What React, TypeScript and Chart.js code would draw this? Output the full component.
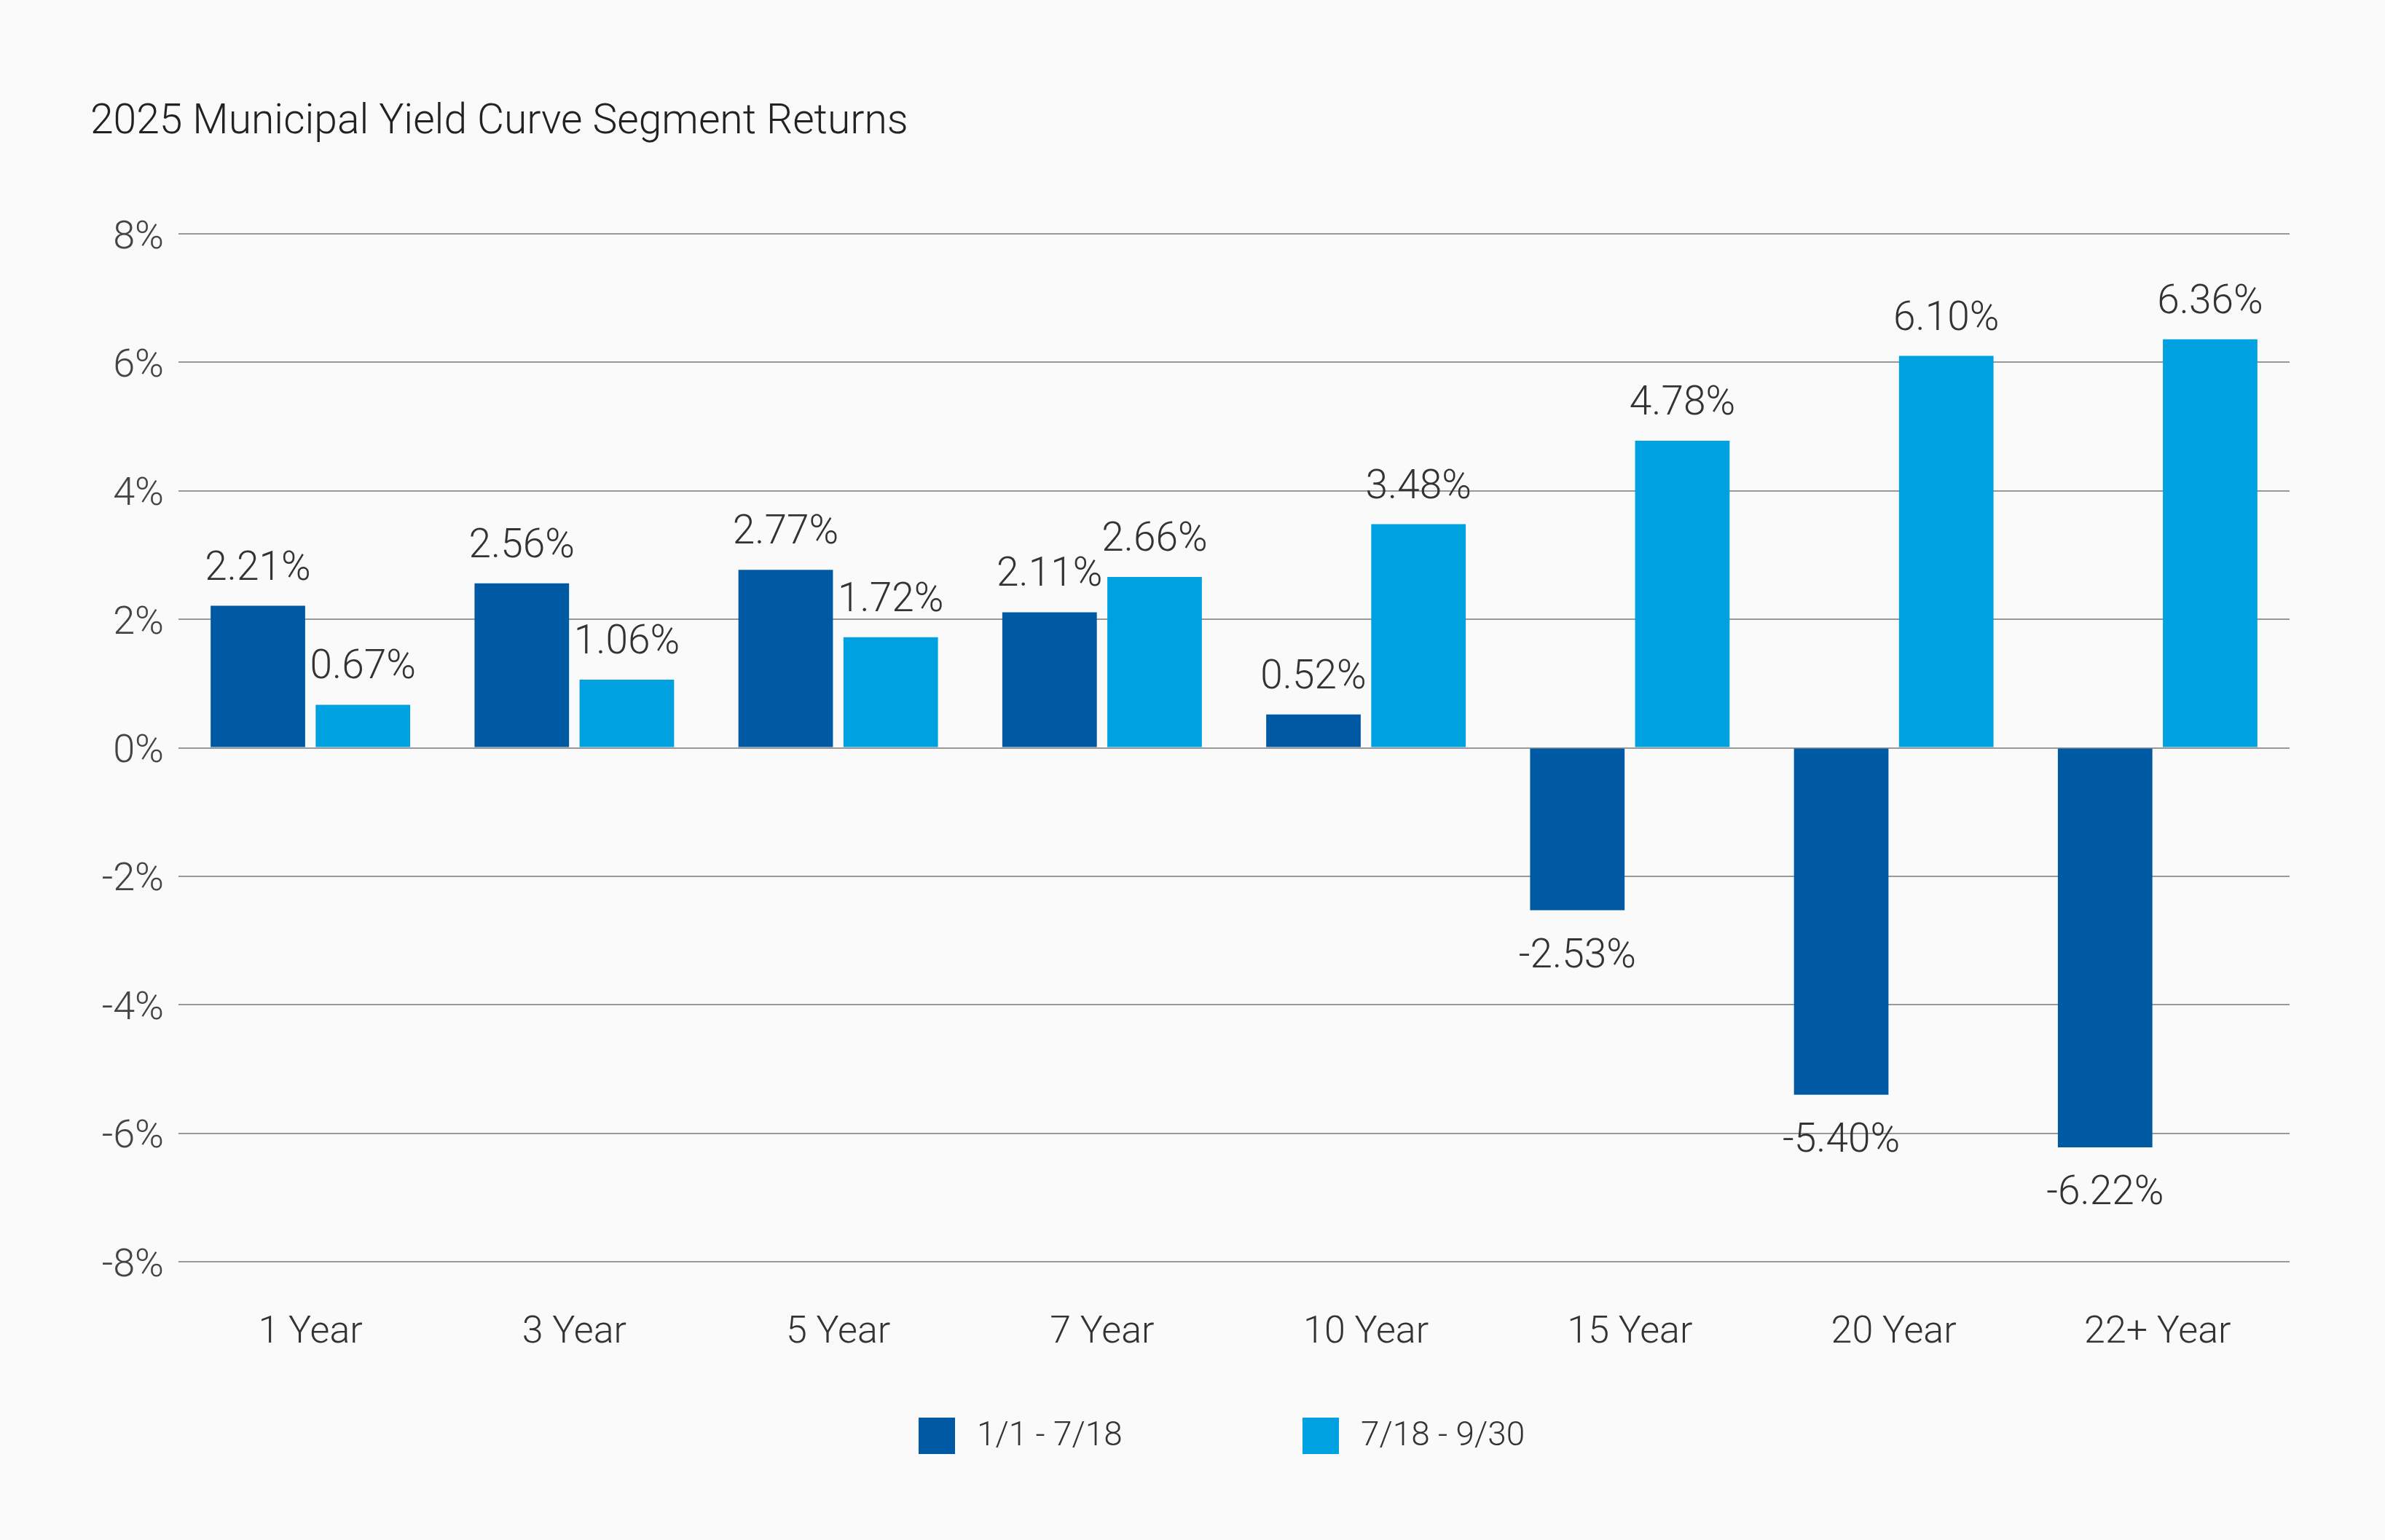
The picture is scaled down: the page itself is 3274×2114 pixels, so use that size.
import React, { useEffect, useRef } from "react";
import { Chart, registerables } from "chart.js";

Chart.register(...registerables);

const titleText = "2025 Municipal Yield Curve Segment Returns";
const categories = ["1 Year", "3 Year", "5 Year", "7 Year", "10 Year", "15 Year", "20 Year", "22+ Year"];
const seriesLabels = ["1/1 - 7/18", "7/18 - 9/30"];
const firstPeriod = [2.21, 2.56, 2.77, 2.11, 0.52, -2.53, -5.4, -6.22];
const secondPeriod = [0.67, 1.06, 1.72, 2.66, 3.48, 4.78, 6.1, 6.36];
const yMin = -8;
const yMax = 8;
const yStep = 2;

const FONT = "Roboto, 'Open Sans', sans-serif";
const DARK = "#005AA3";
const LIGHT = "#00A1E0";
const BG = "#FAFAFA";

const valueLabels = {
  id: "valueLabels",
  afterDatasetsDraw(chart: any) {
    const ctx = chart.ctx;
    ctx.save();
    ctx.font = `300 55px ${FONT}`;
    ctx.fillStyle = "#333333";
    ctx.textAlign = "center";
    ctx.textBaseline = "alphabetic";
    chart.data.datasets.forEach((ds: any, di: number) => {
      const meta = chart.getDatasetMeta(di);
      meta.data.forEach((bar: any, i: number) => {
        const v = ds.data[i] as number;
        const y = v >= 0 ? bar.y - 36 : bar.y + 78;
        ctx.fillText(v.toFixed(2) + "%", bar.x, y);
      });
    });
    ctx.restore();
  },
};

const customLegend = {
  id: "customLegend",
  afterDraw(chart: any) {
    const ctx = chart.ctx;
    const area = chart.chartArea;
    const box = 50;
    const gap = 30;
    const offsets = [-433, 94];
    ctx.save();
    ctx.font = `300 46px ${FONT}`;
    ctx.textBaseline = "middle";
    ctx.textAlign = "left";
    const cx = (area.left + area.right) / 2;
    const cy = area.bottom + 239;
    chart.data.datasets.forEach((ds: any, i: number) => {
      const x = cx + offsets[i];
      ctx.fillStyle = ds.backgroundColor;
      ctx.fillRect(x, cy - box / 2, box, box);
      ctx.fillStyle = "#333333";
      ctx.fillText(ds.label, x + box + gap, cy + 1);
    });
    ctx.restore();
  },
};

export default function App() {
  const canvasRef = useRef<HTMLCanvasElement | null>(null);

  useEffect(() => {
    if (!canvasRef.current) return;
    const chart = new Chart(canvasRef.current, {
      type: "bar",
      data: {
        labels: categories,
        datasets: [
          {
            label: seriesLabels[0],
            data: firstPeriod,
            backgroundColor: DARK,
            borderWidth: 0,
            categoryPercentage: 0.796,
            barPercentage: 0.9,
          },
          {
            label: seriesLabels[1],
            data: secondPeriod,
            backgroundColor: LIGHT,
            borderWidth: 0,
            categoryPercentage: 0.796,
            barPercentage: 0.9,
          },
        ],
      },
      options: {
        animation: false,
        responsive: true,
        maintainAspectRatio: false,
        layout: { padding: { left: 124, right: 131, top: 0, bottom: 252 } },
        plugins: {
          legend: { display: false },
          tooltip: { enabled: false },
          title: {
            display: true,
            text: titleText,
            align: "start",
            color: "#222222",
            font: { family: FONT, size: 57, weight: "300" as any, lineHeight: 1.2 },
            padding: { top: 135, bottom: 117.6 },
          },
        },
        scales: {
          x: {
            grid: { display: false, drawTicks: false },
            border: { display: false },
            ticks: {
              color: "#333333",
              padding: 67,
              font: { family: FONT, size: 52, weight: "300" as any, lineHeight: 1.2 },
              maxRotation: 0,
            },
            afterFit(scale: any) {
              scale.height = 130;
            },
          },
          y: {
            min: yMin,
            max: yMax,
            grid: { color: "#999999", lineWidth: 2, drawTicks: false },
            border: { display: false },
            ticks: {
              stepSize: yStep,
              color: "#444444",
              padding: 20,
              labelOffset: 6,
              font: { family: FONT, size: 54, weight: "300" as any, lineHeight: 1.2 },
              callback: (v: any) => `${v}%`,
            },
            afterFit(scale: any) {
              scale.width = 121;
            },
          },
        },
      },
      plugins: [valueLabels, customLegend],
    });
    return () => chart.destroy();
  }, []);

  return (
    <div
      style={{
        position: "fixed",
        left: 0,
        top: 0,
        width: "100vw",
        height: "100vh",
        background: BG,
      }}
    >
      <canvas ref={canvasRef} />
    </div>
  );
}
